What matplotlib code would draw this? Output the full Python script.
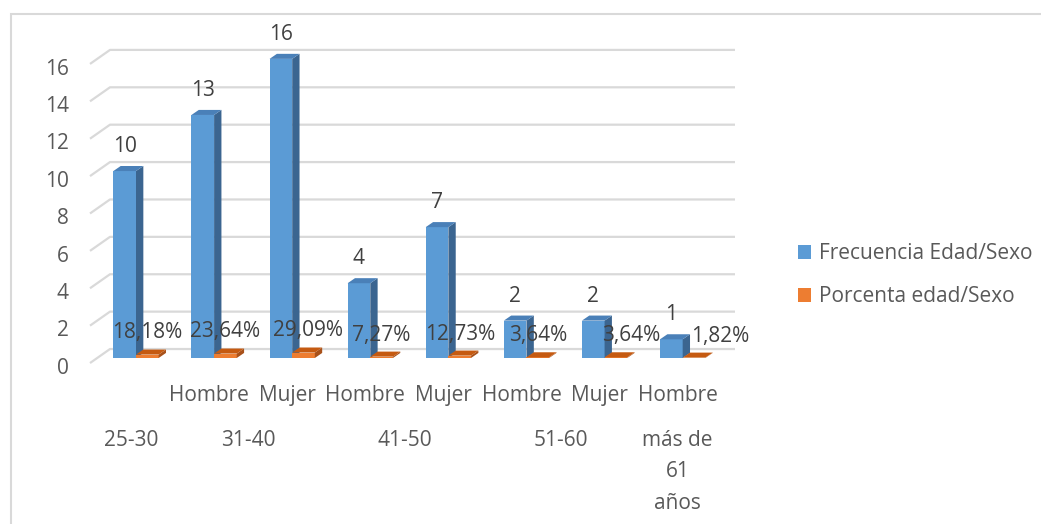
import numpy as np
import matplotlib.pyplot as plt
from matplotlib.patches import Polygon, Rectangle

plt.rcParams['font.family'] = ['Open Sans', 'DejaVu Sans']

# data
sexo = ['', 'Hombre', 'Mujer', 'Hombre', 'Mujer', 'Hombre', 'Mujer', 'Hombre']
edad = ['25-30', '31-40', '41-50', '51-60', 'más de\n61\naños']
edad_pos = [0, 1.5, 3.5, 5.5, 7]
frecuencia = [10, 13, 16, 4, 7, 2, 2, 1]
porcentaje = [0.1818, 0.2364, 0.2909, 0.0727, 0.1273, 0.0364, 0.0364, 0.0182]
series = ['Frecuencia Edad/Sexo', 'Porcenta edad/Sexo']
yticks = [0, 2, 4, 6, 8, 10, 12, 14, 16]

W, H = 1041, 524
fig = plt.figure(figsize=(W / 100, H / 100), dpi=100)
ax = fig.add_axes([90 / W, 1 - 370 / H, (735 - 90) / W, (370 - 20) / H])
ax.set_xlim(-0.589, 7.670)
ax.set_ylim(-0.642, 18.08)
ax.axis('off')

# outer chart border
fig.patches.append(Rectangle((11 / W, -0.1), 1.2, 1 - 14 / H + 0.1, transform=fig.transFigure,
                             fill=False, edgecolor='#d9d9d9', lw=1.5))

grid_c = '#d9d9d9'
txt_c = '#595959'
lab_c = '#404040'
fs = 15

# 3d gridlines (front edge -> back wall)
xl, xb, xr = -0.589, -0.333, 7.670
for v in yticks:
    ax.plot([xl, xb, xr], [v - 0.27, v + 0.48, v + 0.48], color=grid_c, lw=1.6,
            solid_capstyle='butt', zorder=0, clip_on=False)
    ax.text(-0.858, v - 0.55, str(v), ha='right', va='center', fontsize=fs, color=txt_c)

x = np.arange(len(frecuencia))
w = 0.29
dx, dy = 0.094, 0.27


def bar3d(xs, vals, front, top, side):
    bars = ax.bar(xs, vals, width=w, align='edge', color=front, linewidth=0, zorder=2)
    for x0, v in zip(xs, vals):
        ax.add_patch(Polygon([(x0 + w, 0), (x0 + w + dx, dy), (x0 + w + dx, v + dy), (x0 + w, v)],
                             closed=True, facecolor=side, edgecolor='none', zorder=2))
        ax.add_patch(Polygon([(x0, v), (x0 + dx, v + dy), (x0 + w + dx, v + dy), (x0 + w, v)],
                             closed=True, facecolor=top, edgecolor='none', zorder=2))
    return bars


b1 = bar3d(x - w, frecuencia, '#5b9bd5', '#4a80b8', '#3b6590')
b2 = bar3d(x, porcentaje, '#ed7d31', '#c55a11', '#a8511a')

# data labels
for xi, v in zip(x, frecuencia):
    ax.annotate(str(v), (xi - w / 2, v), xytext=(0, 10), textcoords='offset points',
                ha='center', va='bottom', fontsize=fs, color=lab_c, zorder=3)
pct_shift = [0, 0, 3, 0, 0, 0, 11, 19]
for xi, p, s in zip(x, porcentaje, pct_shift):
    lbl = f'{p * 100:.2f}%'.replace('.', ',')
    ax.annotate(lbl, (xi + w / 2, p), xytext=(s, 8), textcoords='offset points',
                ha='center', va='bottom', fontsize=fs, color=lab_c, zorder=3)

# two-level category axis
for xi, s in zip(x, sexo):
    ax.text(xi - 0.064, -1.98, s, ha='center', va='center', fontsize=fs, color=txt_c)
for xp, e in zip(edad_pos, edad):
    ax.text(xp - 0.064, -3.85, e, ha='center', va='top', fontsize=fs, color=txt_c,
            linespacing=1.65)

fig.legend([b1, b2], series, loc='center left', bbox_to_anchor=(779 / W, 1 - 275 / H),
           frameon=False, fontsize=fs, labelcolor=txt_c, handlelength=0.65, handleheight=0.65,
           handletextpad=0.35, labelspacing=1.05)

fig.savefig('out.png', dpi=100)
